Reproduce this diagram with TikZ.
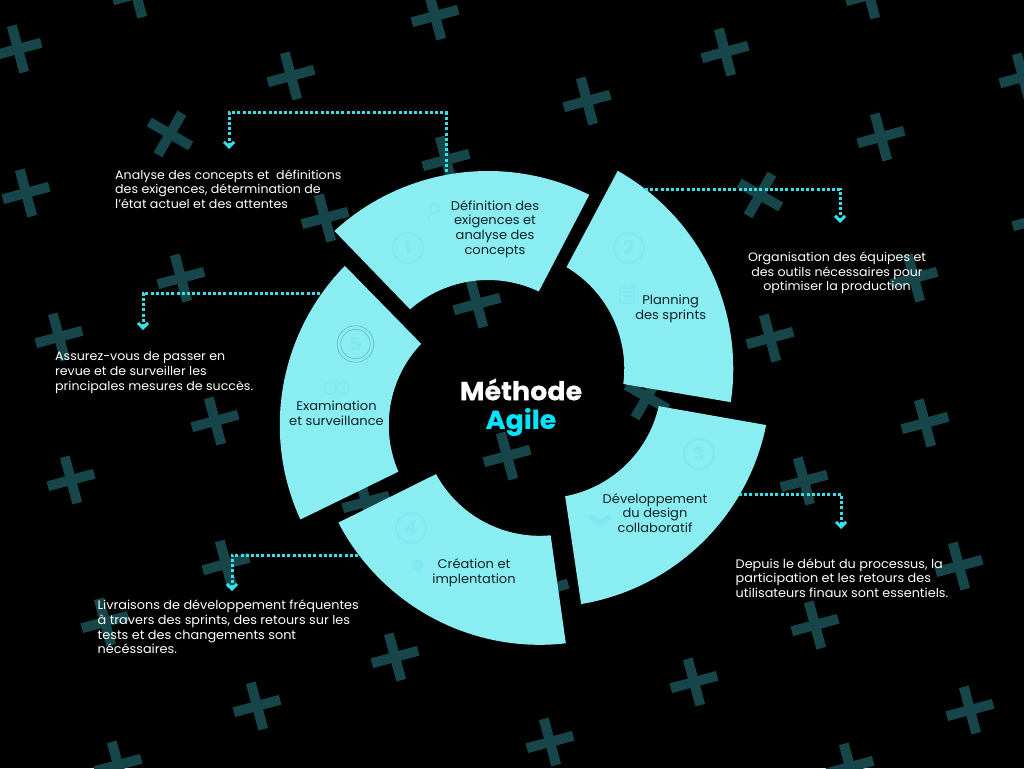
\documentclass[tikz,border=0pt]{standalone}
\usepackage{fontspec}
\setmainfont{Poppins}[FakeStretch=1.035]
\usetikzlibrary{arrows.meta}
\definecolor{petalcol}{HTML}{8AEDF2}
\definecolor{faintcol}{HTML}{80E9EF}
\definecolor{pluscol}{HTML}{164649}
\definecolor{leadcol}{HTML}{35E0E8}
\definecolor{inkcol}{HTML}{0C2326}
\definecolor{agilecol}{HTML}{00E5FF}
\tikzset{
  plusarm/.style={draw=pluscol,line width=10pt},
  petal/.style={fill=petalcol},
  petaltext/.style={text=inkcol,align=center,inner sep=0pt,font=\fontsize{12.6}{14.7}\selectfont},
  notetext/.style={text=white,align=left,anchor=west,inner sep=0pt,font=\fontsize{#1}{14.6}\selectfont},
  notetext/.default=12.2,
  leader/.style={draw=leadcol,line width=3pt,dash pattern=on 3pt off 2.2pt,-{Straight Barb[length=5pt,width=10pt,line width=3pt]}},
  numring/.style={circle,draw=faintcol,line width=2.2pt,text=faintcol,minimum size=30pt,inner sep=0pt,font=\bfseries\fontsize{18}{18}\selectfont},
  iconline/.style={draw=faintcol,line width=1.3pt}
}
\begin{document}
\begin{tikzpicture}[x=1pt,y=-1pt]
  \clip (0,0) rectangle (1024,768);
  \fill[black] (0,0) rectangle (1024,768);
  \foreach \x/\y/\rot in {18/49/15, 136/-6/15, 291/76/15, 435/16/15, 170/134/-30, 26/193/15, 446/160/15,
      325/218/15, 181/278/15, 59/337/15, 477/304/15, 725/52/15, 587/101/15, 869/-5/15, 881/137/15,
      1023/77/15, 760/195/-30, 1036/220/15, 914/278/15, 770/338/15, 215/421/15, 71/480/15, 366/502/15,
      226/564/15, 105/622/15, 395/657/15, 257/706/15, 118/765/15, 507/456/15, 545/590/15, 647/397/-30,
      925/423/15, 804/481/15, 959/566/15, 815/625/15, 694/682/15, 550/742/15, 970/710/15, 850/767/15}
    \draw[plusarm,shift={(\x,\y)},rotate=\rot] (-24,0) -- (24,0) (0,-24) -- (0,24);

  \foreach \ang/\dx/\dy in {0/0/0, -72/-1.5/-2.2, -144/3.9/-1, -216/0/3, -288/-1/-0.2}
    \fill[petal,shift={(\dx,\dy)},rotate around={\ang:(516.6,398)},shift={(488,398)}]
      (-132.6:227) arc[start angle=-132.6,end angle=-63.5,radius=227]
      -- (-64.5:118) arc[start angle=-64.5,end angle=-131.3,radius=118] -- cycle;

  \foreach \pos/\name/\num in {{(408,248)/one/1}, {(629,248)/two/2}, {(699,454)/three/3}, {(411,528)/four/4}}
    \node[numring] (\name) at \pos {\num};
  \node[circle,draw=faintcol!70!black,line width=.5pt,double=petalcol,double distance=3pt,text=faintcol,
    minimum size=33pt,inner sep=0pt,font=\bfseries\fontsize{18}{18}\selectfont] (five) at (355.5,344) {5};

  \draw[iconline] (435,208.5) circle (5) (431.5,212.5) -- (428,220);
  \draw[iconline,fill=petalcol] (620,288) rectangle (634,303) (622,292) -- (632,292) (622,296) -- (632,296);
  \fill[faintcol] (633,287) circle (3);
  \draw[faintcol,line width=5pt] (590,516) -- (600,523) -- (611,516);
  \draw[iconline,fill=faintcol] (418,565) circle (5) (416,572) -- (420,572);
  \draw[iconline] (330,388) circle (6) (343,388) circle (6) (334,381) -- (339,381);

  \node[petaltext] (define) at (495,229) {Définition des\\exigences et\\analyse des\\concepts};
  \node[petaltext] (planning) at (670.7,308.5) {Planning\\des sprints};
  \node[petaltext] (design) at (655,513) {Développement\\du design\\collaboratif};
  \node[petaltext] (build) at (474,572.5) {Création et\\implentation};
  \node[petaltext] (review) at (336.5,413) {Examination\\et surveillance};

  \node[notetext] (notedefine) at (115,189) {Analyse des concepts et\ \ définitions\\des exigences, détermination de\\l’état actuel et des attentes};
  \node[notetext,align=center,anchor=center] (noteplanning) at (837,273) {Organisation des équipes et\\des outils nécessaires pour\\optimiser la production};
  \node[notetext=12.4] (notedesign) at (735.5,578) {Depuis le début du processus, la\\participation et les retours des\\utilisateurs finaux sont essentiels.};
  \node[notetext=12.4] (notebuild) at (97.5,627) {Livraisons de développement fréquentes\\à travers des sprints, des retours sur les\\tests et des changements sont\\nécéssaires.};
  \node[notetext] (notereview) at (55,372.5) {Assurez-vous de passer en\\revue et de surveiller les\\principales mesures de succès.};

  \node[text=white,inner sep=0pt,font=\bfseries\fontsize{26}{30}\selectfont\addfontfeature{FakeBold=0.4}] (method) at (521,389.5) {Méthode};
  \node[text=agilecol,inner sep=0pt,font=\bfseries\fontsize{26}{30}\selectfont\addfontfeature{FakeBold=0.4}] (agile) at (521,422) {Agile};

  \foreach \name/\x/\y in {define/446/172, planning/645/189, design/739/494, build/358/555, review/320/293}
    \coordinate (\name-from) at (\x,\y);
  \foreach \name/\x/\y in {define/229/149, planning/840/223, design/841/529, build/232/591, review/143/330}
    \coordinate (\name-to) at (\x,\y);
  \coordinate (define-up) at (446,112.5);
  \coordinate (define-left) at (229,112.5);
  \draw[leader] (define-from) -- (define-up) -- (define-left) -- (define-to);
  \foreach \name in {planning,design,build,review}
    \draw[leader] (\name-from) -| (\name-to);
\end{tikzpicture}
\end{document}
